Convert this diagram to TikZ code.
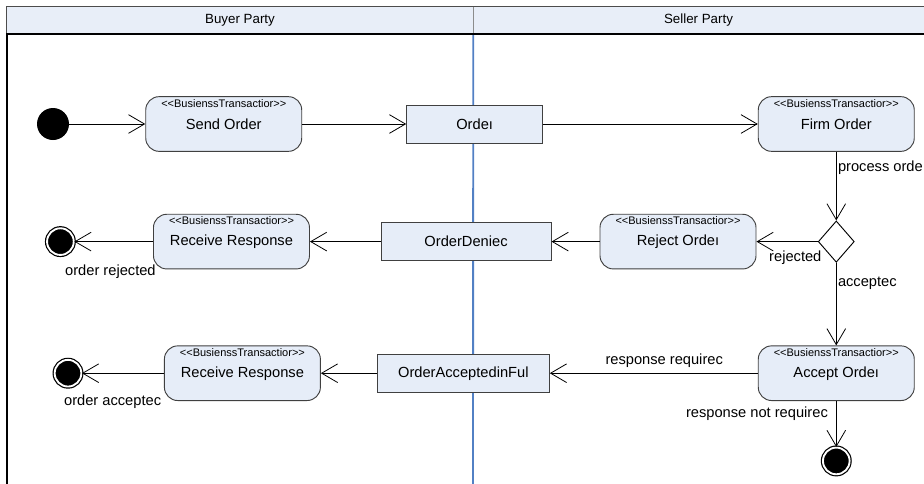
\documentclass[tikz,border=0pt]{standalone}
\usepackage{fontspec}
\setmainfont{Liberation Sans}
\usetikzlibrary{shapes.geometric, arrows.meta, positioning}
\definecolor{actfill}{RGB}{230,237,248}
\definecolor{lanefill}{RGB}{232,238,248}
\definecolor{laneblue}{RGB}{82,128,196}

\begin{document}
\begin{tikzpicture}[
    x=0.75pt, y=-0.75pt,
    node distance=40pt,
    lanehdr/.style={
        rectangle,
        fill=lanefill,
        minimum height=20.25pt,
        inner sep=0pt,
        font=\fontsize{10}{12}\selectfont
    },
    actbox/.style={
        rectangle,
        draw=black!75,
        fill=actfill,
        line width=0.7pt,
        rounded corners=10pt,
        minimum width=117pt,
        minimum height=41pt,
        inner sep=0pt,
        font=\fontsize{11}{13}\selectfont,
        label={[stereo]north:{<{}<BusienssTransactior>{}>}}
    },
    stereo/.style={
        anchor=north,
        inner sep=0pt,
        yshift=-2.2pt,
        font=\fontsize{8.25}{9}\selectfont
    },
    objbox/.style={
        rectangle,
        draw=black!75,
        fill=actfill,
        line width=0.7pt,
        minimum height=28.5pt,
        inner sep=0pt,
        font=\fontsize{11}{13}\selectfont
    },
    startdot/.style={
        circle,
        fill=black,
        minimum size=24pt,
        inner sep=0pt
    },
    enddot/.style={
        circle,
        draw=black,
        fill=black,
        line width=0.9pt,
        double=white,
        double distance=1.4pt,
        minimum size=20pt,
        inner sep=0pt
    },
    choice/.style={
        diamond,
        draw=black,
        fill=white,
        line width=0.7pt,
        minimum width=27pt,
        minimum height=31pt,
        inner sep=0pt
    },
    flow/.style={
        draw,
        line width=0.6pt,
        -{Straight Barb[length=12pt,width=14pt]}
    },
    lbl/.style={
        font=\fontsize{11}{13}\selectfont,
        inner sep=1pt
    }
]
\useasboundingbox (0,0) rectangle (924,483);

% Swimlanes
\node [lanehdr, minimum width=349.5pt] (buyerhdr) at (240,20.5) {Buyer Party};
\node [lanehdr, minimum width=338.25pt] (sellerhdr) at (698.5,20.5) {Seller Party};
\coordinate (lanebot) at (473,490);
\draw [black!70, line width=0.7pt] (sellerhdr.north east) -- (buyerhdr.north west) -- (buyerhdr.south west);
\draw [black!45, line width=0.7pt] (buyerhdr.north east) -- (buyerhdr.south east);
\draw [laneblue, line width=1.4pt] (buyerhdr.south east) -- (lanebot);
\draw [black, line width=1.4pt] (sellerhdr.south east) -- (buyerhdr.south west) -- (buyerhdr.south west |- lanebot);

% Nodes
\node [startdot] (start) at (53,124) {};
\node [actbox, right=57pt of start] (send) {Send Order};
\node [objbox, minimum width=102pt, right=78pt of send] (order) {Ordeı};
\node [actbox, right=161pt of order] (firm) {Firm Order};
\node [choice, below=51.5pt of firm] (decide) {};

% Rejected row
\node [actbox, left=46pt of decide] (reject) {Reject Ordeı};
\node [objbox, minimum width=127.5pt, left=36pt of reject] (denied) {OrderDeniec};
\node [actbox, left=53pt of denied] (recvrej) {Receive Response};
\node [enddot, left=59pt of recvrej,
    label={[lbl, xshift=-5pt, yshift=-9pt]below right:order rejected}] (endrej) {};

% Accepted row
\node [actbox, below=62pt of decide] (accept) {Accept Ordeı};
\node [objbox, minimum width=129pt, left=156pt of accept] (accfull) {OrderAcceptedinFul};
\node [actbox, left=42pt of accfull] (recvacc) {Receive Response};
\node [enddot, left=61.5pt of recvacc,
    label={[lbl, xshift=-11.5pt, yshift=-8pt]below right:order acceptec}] (endacc) {};
\node [enddot, below=34.5pt of accept] (endok) {};

% Connections
\path [flow] (start) -- (send);
\path [flow] (send) -- (order);
\path [flow] (order) -- (firm);
\path [flow] (firm) -- node [lbl, pos=0.23, anchor=west] {process orde} (decide);

\path [flow] (decide) -- node [lbl, pos=0, anchor=north east, xshift=4pt, yshift=-5.5pt] {rejected} (reject);
\path [flow] (reject) -- (denied);
\path [flow] (denied) -- (recvrej);
\path [flow] (recvrej) -- (endrej);

\path [flow] (decide) -- node [lbl, pos=0.25, anchor=west] {acceptec} (accept);
\path [flow] (accept) -- node [lbl, pos=0.45, above=3pt] {response requirec} (accfull);
\path [flow] (accfull) -- (recvacc);
\path [flow] (recvacc) -- (endacc);
\path [flow] (accept) -- node [lbl, pos=0.28, anchor=east, xshift=-5pt] {response not requirec} (endok);

\end{tikzpicture}
\end{document}
